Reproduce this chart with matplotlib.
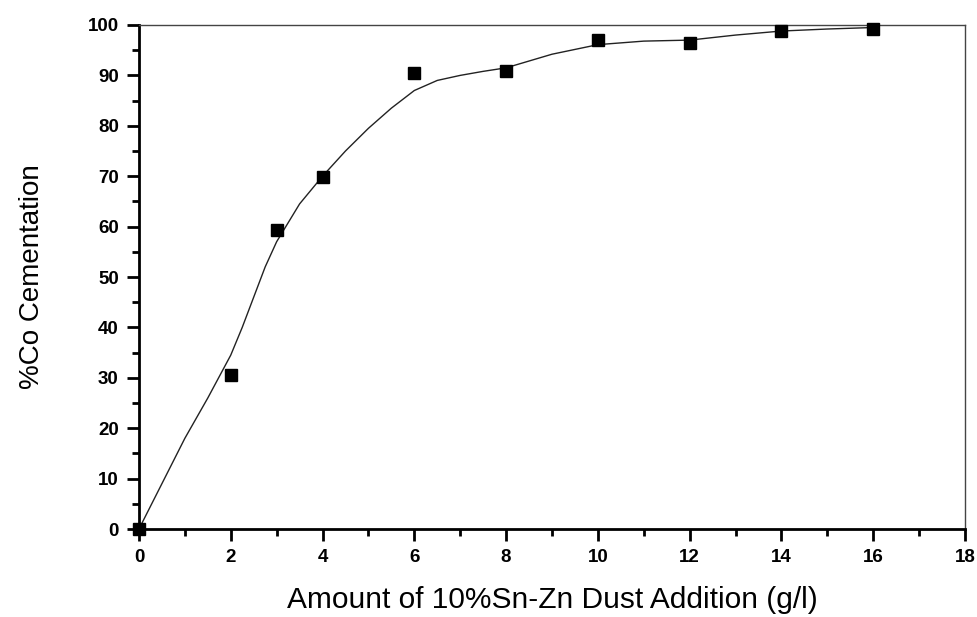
import matplotlib.pyplot as plt
import numpy as np
from matplotlib.ticker import MultipleLocator

plt.rcParams['font.family'] = ['Liberation Sans', 'DejaVu Sans']

# measured points
dose = [0, 2, 3, 4, 6, 8, 10, 12, 14, 16]
cementation = [0, 30.6, 59.3, 69.9, 90.4, 90.8, 97.1, 96.5, 98.8, 99.3]

# smooth curve
curve_x = [0, 0.5, 1, 1.5, 2, 2.25, 2.5, 2.75, 3, 3.5, 4, 4.5, 5, 5.5, 6, 6.5, 7, 7.5, 8,
           9, 10, 11, 12, 13, 14, 15, 16]
curve_y = [0, 9, 18, 26, 34.5, 40, 46, 52, 57, 64.5, 70, 75, 79.5, 83.5, 87, 89, 90, 90.8, 91.5,
           94.2, 96.1, 96.8, 97.0, 98.0, 98.8, 99.2, 99.5]

xticks = np.arange(0, 19, 2)
yticks = np.arange(0, 101, 10)

fig = plt.figure(figsize=(9.78, 6.17), dpi=100)
ax = fig.add_axes([0.1421, 0.1426, 0.8446, 0.8169])

ax.plot(curve_x, curve_y, color='#222222', lw=1.0, zorder=2)
ax.plot(dose, cementation, 's', color='black', markersize=8, zorder=3, clip_on=False)

ax.set_xlim(0, 18)
ax.set_ylim(0, 100)
ax.set_xticks(xticks)
ax.set_yticks(yticks)
ax.xaxis.set_minor_locator(MultipleLocator(1))
ax.yaxis.set_minor_locator(MultipleLocator(5))

for lbl in ax.get_xticklabels() + ax.get_yticklabels():
    lbl.set_fontweight('bold')
ax.tick_params(which='major', direction='out', length=8.5, width=2, labelsize=13.5, pad=6)
ax.tick_params(which='minor', direction='out', length=5, width=2)
ax.tick_params(top=False, right=False, which='both')

ax.spines['left'].set_linewidth(2)
ax.spines['bottom'].set_linewidth(2)
ax.spines['top'].set_linewidth(1)
ax.spines['right'].set_linewidth(1)
ax.spines['top'].set_color('#444444')
ax.spines['right'].set_color('#444444')

ax.set_xlabel('Amount of 10%Sn-Zn Dust Addition (g/l)', fontsize=21.5, labelpad=14)
ax.set_ylabel('%Co Cementation', fontsize=20, labelpad=31)

fig.savefig('out.png', dpi=100)
